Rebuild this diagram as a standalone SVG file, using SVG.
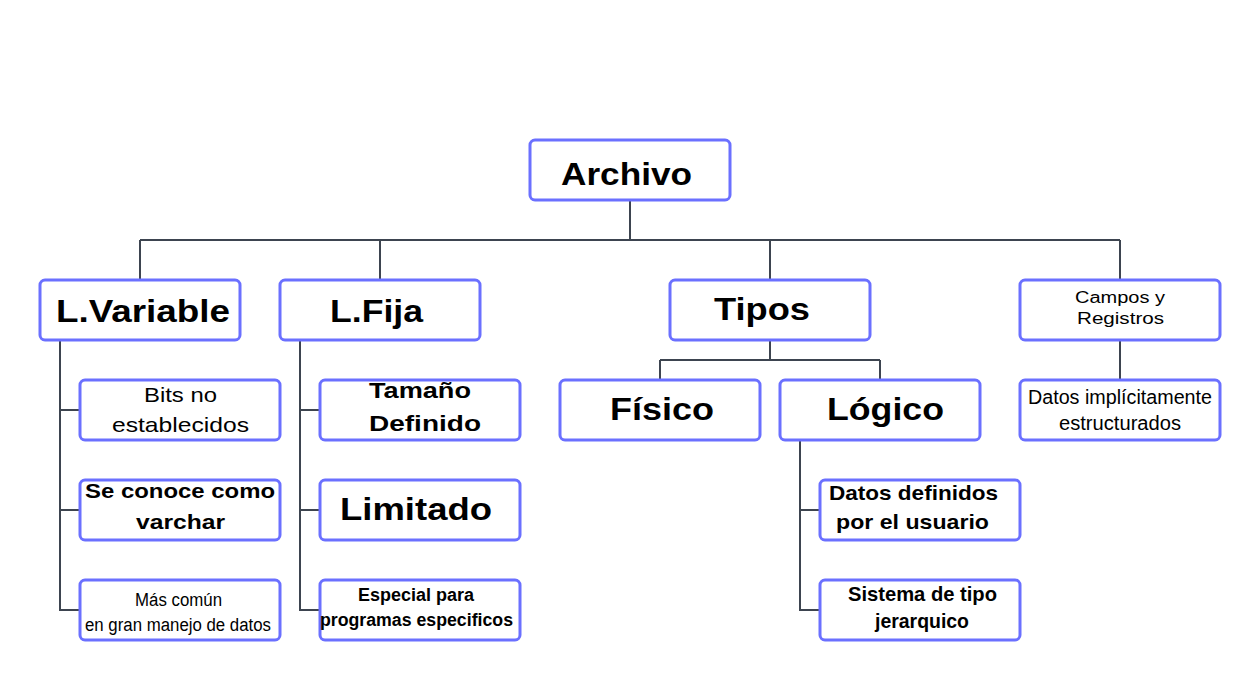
<svg xmlns="http://www.w3.org/2000/svg" width="1260" height="680" viewBox="0 0 1260 680">
<style>
.box{fill:#fff;stroke:#6b70ff;stroke-width:3}
.c{fill:none;stroke:#3d4450;stroke-width:2}
text{font-family:"Liberation Sans",Arial,sans-serif;fill:#000}
.b{font-weight:bold}
</style>
<rect width="1260" height="680" fill="#fff"/>
<g id="connectors">
<path class="c" d="M630 200V240M140 240H1120M140 240V280M380 240V280M770 240V280M1120 240V280"/>
<path class="c" d="M60 340V610H80M60 410H80M60 510H80"/>
<path class="c" d="M300 340V610H320M300 410H320M300 510H320"/>
<path class="c" d="M770 340V360M660 360H880M660 360V380M880 360V380"/>
<path class="c" d="M800 440V610H820M800 510H820"/>
<path class="c" d="M1120 340V380"/>
</g>
<g id="archivo"><rect class="box" x="530" y="140" width="200" height="60" rx="5"/><text class="b" x="561" y="185" font-size="32" textLength="131" lengthAdjust="spacingAndGlyphs">Archivo</text></g>
<g id="lvariable"><rect class="box" x="40" y="280" width="200" height="60" rx="5"/><text class="b" x="56" y="322" font-size="32" textLength="174" lengthAdjust="spacingAndGlyphs">L.Variable</text></g>
<g id="lfija"><rect class="box" x="280" y="280" width="200" height="60" rx="5"/><text class="b" x="330" y="322" font-size="32" textLength="93" lengthAdjust="spacingAndGlyphs">L.Fija</text></g>
<g id="tipos"><rect class="box" x="670" y="280" width="200" height="60" rx="5"/><text class="b" x="714" y="320" font-size="32" textLength="96" lengthAdjust="spacingAndGlyphs">Tipos</text></g>
<g id="campos"><rect class="box" x="1020" y="280" width="200" height="60" rx="5"/><text x="1075" y="303" font-size="16" textLength="90" lengthAdjust="spacingAndGlyphs">Campos y</text><text x="1077" y="324" font-size="16" textLength="87" lengthAdjust="spacingAndGlyphs">Registros</text></g>
<g id="bits"><rect class="box" x="80" y="380" width="200" height="60" rx="5"/><text x="144" y="402" font-size="21" textLength="73" lengthAdjust="spacingAndGlyphs">Bits no</text><text x="112" y="432" font-size="21" textLength="137" lengthAdjust="spacingAndGlyphs">establecidos</text></g>
<g id="seconoce"><rect class="box" x="80" y="480" width="200" height="60" rx="5"/><text class="b" x="85" y="498" font-size="21" textLength="190" lengthAdjust="spacingAndGlyphs">Se conoce como</text><text class="b" x="136" y="529" font-size="21" textLength="89" lengthAdjust="spacingAndGlyphs">varchar</text></g>
<g id="mascomun"><rect class="box" x="80" y="580" width="200" height="60" rx="5"/><text x="135" y="606" font-size="18" textLength="87" lengthAdjust="spacingAndGlyphs">Más común</text><text x="85" y="631" font-size="18" textLength="186" lengthAdjust="spacingAndGlyphs">en gran manejo de datos</text></g>
<g id="tamano"><rect class="box" x="320" y="380" width="200" height="60" rx="5"/><text class="b" x="369" y="398" font-size="22" textLength="102" lengthAdjust="spacingAndGlyphs">Tamaño</text><text class="b" x="369" y="431" font-size="22" textLength="112" lengthAdjust="spacingAndGlyphs">Definido</text></g>
<g id="limitado"><rect class="box" x="320" y="480" width="200" height="60" rx="5"/><text class="b" x="340" y="520" font-size="32" textLength="152" lengthAdjust="spacingAndGlyphs">Limitado</text></g>
<g id="especial"><rect class="box" x="320" y="580" width="200" height="60" rx="5"/><text class="b" x="358" y="601" font-size="18" textLength="116" lengthAdjust="spacingAndGlyphs">Especial para</text><text class="b" x="320" y="626" font-size="18" textLength="193" lengthAdjust="spacingAndGlyphs">programas especificos</text></g>
<g id="fisico"><rect class="box" x="560" y="380" width="200" height="60" rx="5"/><text class="b" x="610" y="420" font-size="32" textLength="104" lengthAdjust="spacingAndGlyphs">Físico</text></g>
<g id="logico"><rect class="box" x="780" y="380" width="200" height="60" rx="5"/><text class="b" x="827" y="420" font-size="32" textLength="117" lengthAdjust="spacingAndGlyphs">Lógico</text></g>
<g id="datosimp"><rect class="box" x="1020" y="380" width="200" height="60" rx="5"/><text x="1028" y="404" font-size="20" textLength="184" lengthAdjust="spacingAndGlyphs">Datos implícitamente</text><text x="1059" y="430" font-size="20" textLength="122" lengthAdjust="spacingAndGlyphs">estructurados</text></g>
<g id="datosdef"><rect class="box" x="820" y="480" width="200" height="60" rx="5"/><text class="b" x="829" y="500" font-size="21" textLength="169" lengthAdjust="spacingAndGlyphs">Datos definidos</text><text class="b" x="836" y="529" font-size="21" textLength="153" lengthAdjust="spacingAndGlyphs">por el usuario</text></g>
<g id="sistema"><rect class="box" x="820" y="580" width="200" height="60" rx="5"/><text class="b" x="848" y="601" font-size="21" textLength="149" lengthAdjust="spacingAndGlyphs">Sistema de tipo</text><text class="b" x="875" y="628" font-size="21" textLength="94" lengthAdjust="spacingAndGlyphs">jerarquico</text></g>
</svg>
